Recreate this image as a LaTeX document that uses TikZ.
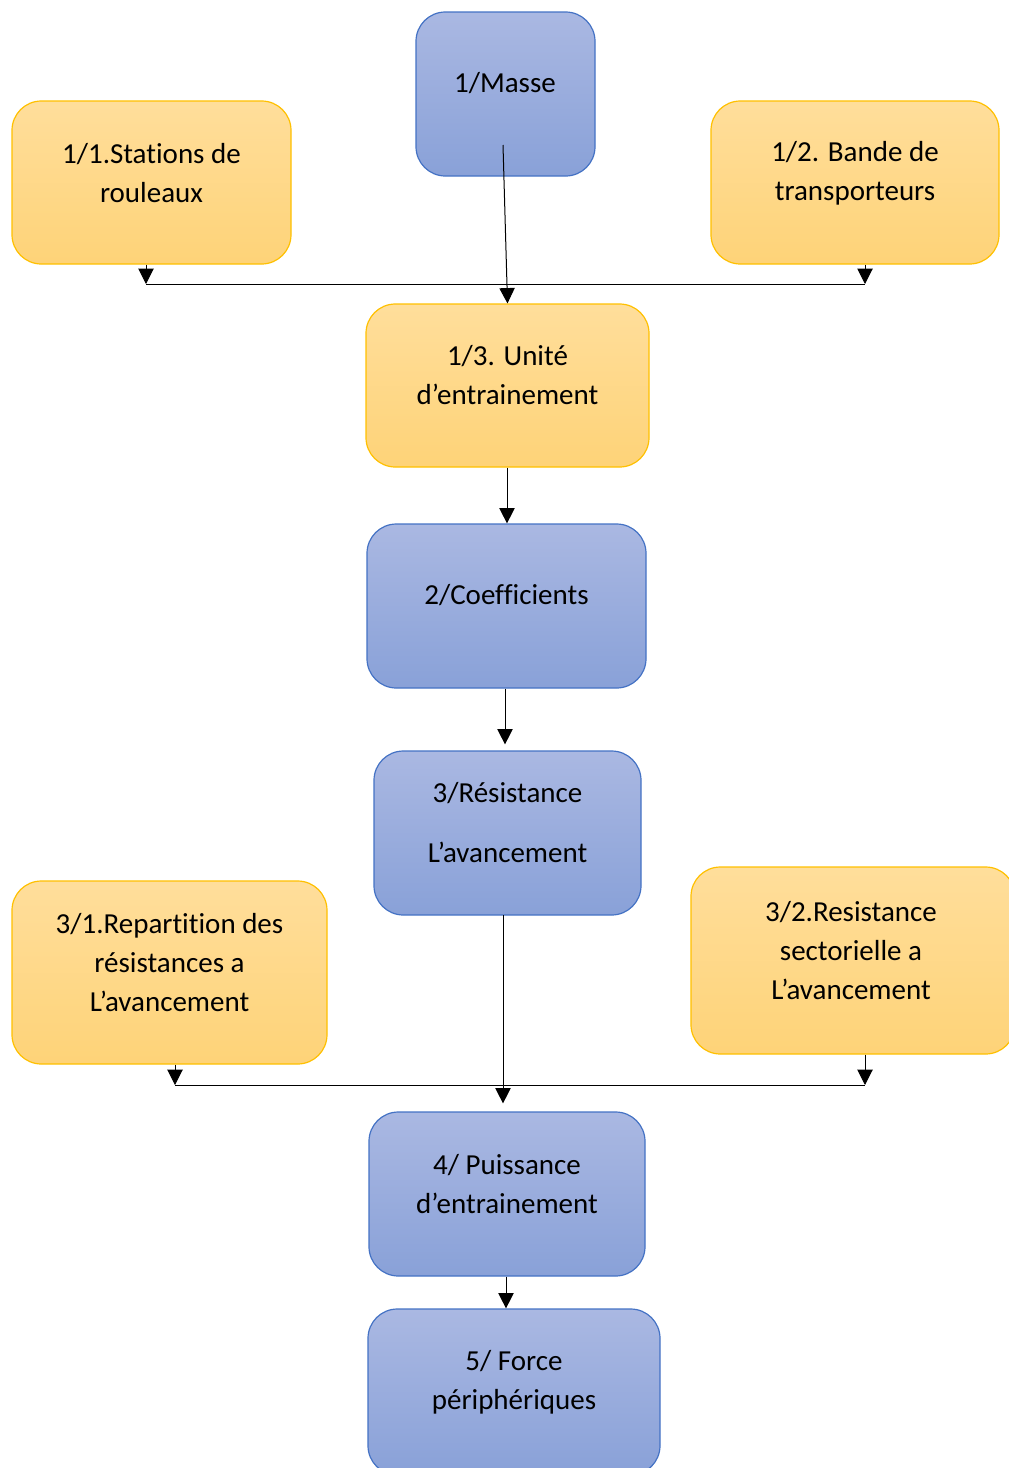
\documentclass[tikz,border=0pt]{standalone}
\usepackage{fontspec}
\setmainfont{Carlito}[Ligatures=NoCommon]
\usetikzlibrary{arrows.meta}
\definecolor{bluetop}{RGB}{170,184,226}
\definecolor{bluebot}{RGB}{137,161,216}
\definecolor{bluedraw}{RGB}{68,114,196}
\definecolor{yeltop}{RGB}{255,222,155}
\definecolor{yelbot}{RGB}{254,211,120}
\definecolor{yeldraw}{RGB}{255,192,0}
\begin{document}
\begin{tikzpicture}[x=0.75pt,y=-0.75pt,
  boxbase/.style={rectangle, rounded corners=22pt, line width=0.9pt, inner sep=0pt},
  bluebox/.style={boxbase, draw=bluedraw, top color=bluetop, bottom color=bluebot},
  yelbox/.style={boxbase, draw=yeldraw, top color=yeltop, bottom color=yelbot},
  txt/.style={align=center, inner sep=0pt, font=\fontsize{21.75}{29.25}\selectfont},
  arr/.style={line width=0.75pt, -{Triangle[length=11.5pt,width=11.5pt]}},
  ln/.style={line width=0.75pt}]
\useasboundingbox (0,0) rectangle (1008,1468);
% boxes
\node[bluebox, minimum width=179*0.75pt, minimum height=164*0.75pt] (b1) at (505.5,94) {};
\node[yelbox, minimum width=279*0.75pt, minimum height=163*0.75pt] (b11) at (151.5,182.5) {};
\node[yelbox, minimum width=288*0.75pt, minimum height=163*0.75pt] (b12) at (855,182.5) {};
\node[yelbox, minimum width=283*0.75pt, minimum height=163*0.75pt] (b13) at (507.5,385.5) {};
\node[bluebox, minimum width=279*0.75pt, minimum height=164*0.75pt] (b2) at (506.5,606) {};
\node[bluebox, minimum width=267*0.75pt, minimum height=164*0.75pt] (b3) at (507.5,833) {};
\node[yelbox, minimum width=315*0.75pt, minimum height=183*0.75pt] (b31) at (169.5,972.5) {};
\node[yelbox, minimum width=324*0.75pt, minimum height=187*0.75pt] (b32) at (853,960.5) {};
\node[bluebox, minimum width=276*0.75pt, minimum height=164*0.75pt] (b4) at (507,1194) {};
\node[bluebox, minimum width=292*0.75pt, minimum height=166*0.75pt] (b5) at (514,1392) {};
% texts
\node[txt] (t1) at (505,83) {1/Masse};
\node[txt] (t11) at (151.5,173) {1/1.Stations de\\rouleaux};
\node[txt] (t12) at (855,173) {1/2. Bande de\\transporteurs};
\node[txt] (t13) at (507.5,375) {1/3. Unité\\d’entrainement};
\node[txt] (t2) at (506.5,595) {2/Coefficients};
\node[txt] (t3) at (507.5,823) {3/Résistance\\[15.75pt]L’avancement};
\node[txt] (t31) at (169.5,963) {3/1.Repartition des\\résistances a\\L’avancement};
\node[txt] (t32) at (851,951) {3/2.Resistance\\sectorielle a\\L’avancement};
\node[txt] (t4) at (507,1184) {4/ Puissance\\d’entrainement};
\node[txt] (t5) at (514,1382) {5/ Force\\périphériques};
% junctions
\coordinate (m0) at (503,145);
\coordinate (j1) at (146,284);
\coordinate (j2) at (865,284);
\coordinate (j3) at (175,1085);
\coordinate (j4) at (865,1085);
\coordinate (c3) at (503,915);
\coordinate (x507) at (507,0);
\coordinate (x505) at (505,0);
\coordinate (x506) at (506,0);
% connectors
\draw[arr] (m0) -- (b13.north);
\draw[arr] (b11.south -| j1) -- (j1);
\draw[arr] (b12.south -| j2) -- (j2);
\draw[ln] (j1) -- (j2);
\draw[arr] (b13.south -| x507) -- (b2.north -| x507);
\draw[arr] (b2.south -| x505) -- ([yshift=4.5pt]b3.north -| x505);
\draw[arr] (c3) -- ([yshift=6pt]b4.north -| c3);
\draw[arr] (b31.south -| j3) -- (j3);
\draw[arr] (b32.south -| j4) -- (j4);
\draw[ln] (j3) -- (j4);
\draw[arr] (b4.south -| x506) -- (b5.north -| x506);
\end{tikzpicture}
\end{document}
